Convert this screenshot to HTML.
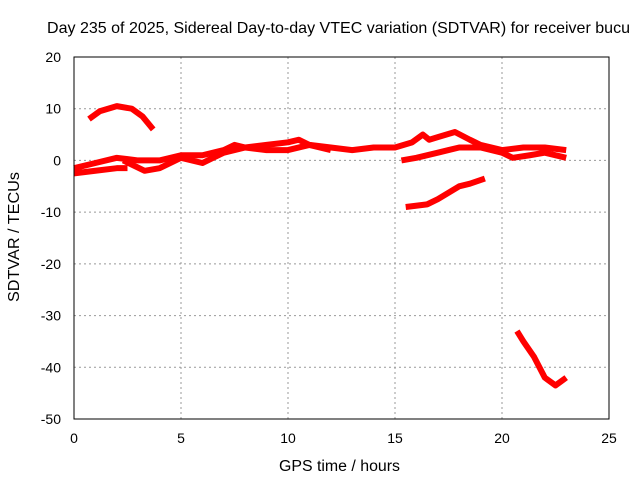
<!DOCTYPE html>
<html><head><meta charset="utf-8"><style>
body{margin:0;background:#fff}
svg{display:block;font-family:"Liberation Sans",sans-serif;font-size:14px}
</style></head><body>
<svg id="c" width="640" height="480">
<text x="47" y="33" font-size="16" textLength="583" lengthAdjust="spacingAndGlyphs">Day 235 of 2025, Sidereal Day-to-day VTEC variation (SDTVAR) for receiver bucu</text>
<text x="279" y="471" font-size="15.5" textLength="121" lengthAdjust="spacingAndGlyphs">GPS time / hours</text>
<text transform="translate(19,302) rotate(-90)" font-size="15.5" textLength="130" lengthAdjust="spacingAndGlyphs">SDTVAR / TECUs</text>
<g id="grid"></g><g id="series"></g>
<rect x="74" y="57" width="535" height="362" fill="none" stroke="#000" stroke-width="1"/>
</svg>
<script>
const xTicks=[0,5,10,15,20,25];
const yTicks=[20,10,0,-10,-20,-30,-40,-50];
const seriesArc=[[0.7,8],[1.2,9.5],[2,10.5],[2.7,10],[3.2,8.5],[3.7,6]];
const seriesMain=[[0,-1.5],[1,-0.5],[2,0.5],[3,0],[4,0],[5,1],[6,1],[7,2],[7.5,3],[8,2.5],[9,3],[10,3.5],[10.5,4],[11,3],[12,2.5],[13,2],[14,2.5],[15,2.5],[15.8,3.5],[16.3,5],[16.6,4],[17,4.5],[17.8,5.5],[18.5,4],[19,3],[20,2],[21,2.5],[22,2.5],[23,2]];
const seriesLowStart=[[0,-2.5],[1,-2],[2,-1.5],[2.5,-1.5]];
const seriesSecond=[[2.3,0],[3.3,-2],[4,-1.5],[5,0.5],[6,-0.5],[6.5,0.5],[7,1.5],[8,2.5],[9,2],[10,2],[11,3],[12,2]];
const seriesLate=[[15.3,0],[16,0.5],[17,1.5],[17.5,2],[18,2.5],[18.5,2.5],[19,2.5],[20,1.5],[20.5,0.5],[21.3,1],[22,1.5],[23,0.5]];
const seriesMid=[[15.5,-9],[16.5,-8.5],[17,-7.5],[18,-5],[18.5,-4.5],[19.2,-3.5]];
const seriesDrop=[[20.7,-33],[21,-35],[21.5,-38],[22,-42],[22.5,-43.5],[23,-42]];
const NS="http://www.w3.org/2000/svg";
const X=h=>74+h*(535/25), Y=v=>57+(20-v)*(362/70);
const grid=document.getElementById('grid'), svg=document.getElementById('c');
xTicks.forEach(t=>{
 if(t>0&&t<25){const l=document.createElementNS(NS,'line');l.setAttribute('x1',X(t));l.setAttribute('x2',X(t));l.setAttribute('y1',57);l.setAttribute('y2',419);l.setAttribute('stroke','#999');l.setAttribute('stroke-dasharray','2,3');
 
 grid.appendChild(l);}
 const tx=document.createElementNS(NS,'text');tx.setAttribute('x',X(t));tx.setAttribute('y',443);tx.setAttribute('text-anchor','middle');tx.textContent=t;
 
 svg.appendChild(tx);
});
yTicks.forEach(t=>{
 if(t<20&&t>-50){const l=document.createElementNS(NS,'line');l.setAttribute('x1',74);l.setAttribute('x2',609);l.setAttribute('y1',Y(t));l.setAttribute('y2',Y(t));l.setAttribute('stroke','#999');l.setAttribute('stroke-dasharray','2,3');
 
 grid.appendChild(l);}
 const tx=document.createElementNS(NS,'text');tx.setAttribute('x',61);tx.setAttribute('y',Y(t)+5);tx.setAttribute('text-anchor','end');tx.textContent=t;
 
 svg.appendChild(tx);
});
const sg=document.getElementById('series');
[seriesArc,seriesMain,seriesLowStart,seriesSecond,seriesLate,seriesMid,seriesDrop].forEach(s=>{
 const p=document.createElementNS(NS,'polyline');
 p.setAttribute('points',s.map(d=>X(d[0])+','+Y(d[1])).join(' '));
 p.setAttribute('fill','none');p.setAttribute('stroke','#f00');p.setAttribute('stroke-width','6');p.setAttribute('stroke-linejoin','round');
 
 
 sg.appendChild(p);
});
</script>
</body></html>
